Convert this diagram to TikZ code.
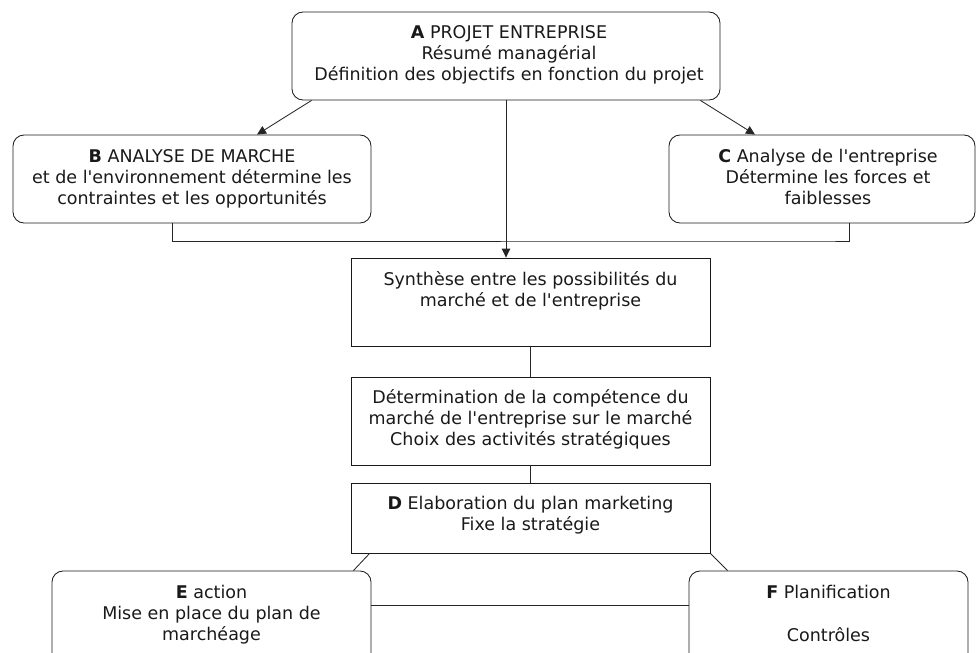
\documentclass[tikz,border=0pt]{standalone}
\usepackage{fontspec}
\setmainfont{DejaVu Sans}
\usetikzlibrary{arrows.meta,calc}
\newcommand{\sr}{\rule{0pt}{15pt}}
\newcommand{\ap}{\XeTeXglyph\XeTeXcharglyph"27\relax}
\begin{document}
\begin{tikzpicture}[x=1pt,y=-1pt,
  rbox/.style={draw=black!90, rounded corners=11pt, line width=0.85pt, inner sep=0pt, minimum height=88pt},
  sbox/.style={draw=black!90, line width=0.85pt, inner sep=0pt},
  lbl/.style={font=\fontsize{17.5}{20.8}\selectfont, align=center, inner sep=0pt, anchor=north, text=black!90},
  conn/.style={draw=black!85, line width=0.85pt},
  arr/.style={conn, -{Triangle[length=9pt,width=8.5pt]}}]
\useasboundingbox (0,0) rectangle (977,653);
\clip (0,0) rectangle (977,653);
% boxes
\node[rbox, minimum width=428pt] (A) at (506,56) {};
\node[rbox, minimum width=358pt] (B) at (192,179) {};
\node[rbox, minimum width=306pt] (C) at (822,179) {};
\node[sbox, minimum width=359pt, minimum height=88pt] (S) at (530.5,302) {};
\node[sbox, minimum width=359pt, minimum height=88pt] (T) at (530.5,421) {};
\node[sbox, minimum width=359pt, minimum height=70pt] (D) at (530.5,518) {};
\node[rbox, minimum width=319pt, minimum height=94pt] (E) at (211.5,618) {};
\node[rbox, minimum width=279pt, minimum height=94pt] (F) at (828.5,618) {};
% texts
\node[lbl] (At) at ([yshift=-12pt,xshift=3pt]A.north) {\sr\textbf{A} PROJET ENTREPRISE\\Résumé managérial\\Définition des objectifs en fonction du projet};
\node[lbl] (Bt) at ([yshift=-13pt]B.north) {\sr\textbf{B} ANALYSE DE MARCHE\\et de l\ap environnement détermine les\\contraintes et les opportunités};
\node[lbl] (Ct) at ([yshift=-13pt,xshift=6pt]C.north) {\sr\textbf{C} Analyse de l\ap entreprise\\Détermine les forces et\\faiblesses};
\node[lbl] (St) at ([yshift=-13pt]S.north) {\sr Synthèse entre les possibilités du\\marché et de l\ap entreprise};
\node[lbl] (Tt) at ([yshift=-12pt]T.north) {\sr Détermination de la compétence du\\marché de l\ap entreprise sur le marché\\Choix des activités stratégiques};
\node[lbl] (Dt) at ([yshift=-12pt]D.north) {\sr\textbf{D} Elaboration du plan marketing\\Fixe la stratégie};
\node[lbl] (Et) at ([yshift=-13pt]E.north) {\sr\textbf{E} action\\Mise en place du plan de\\marchéage};
\node[lbl] (Ft) at ([yshift=-13pt]F.north) {\sr\textbf{F} Planification\\[21.5pt]Contrôles};
% connectors
\draw[arr] ([xshift=20pt]A.south west) -- ([xshift=65pt]B.north);
\draw[arr] ([xshift=-20pt]A.south east) -- ([xshift=-67pt]C.north);
\draw[arr] (A.south) -- (A.south |- S.north);
\coordinate (bc) at (0,241);
\draw[conn] ([xshift=-20pt]B.south) |- (bc -| C.south) -| ([xshift=27pt]C.south);
\draw[conn] (S.south) -- (T.north);
\draw[conn] (T.south) -- (D.north);
\draw[conn] ([xshift=19pt]D.south west) -- ([xshift=-18pt]E.north east);
\draw[conn] (D.south east) -- ([xshift=39pt]F.north west);
\draw[conn] ([yshift=13pt]E.east) -- ([yshift=13pt]F.west);
\end{tikzpicture}
\end{document}
